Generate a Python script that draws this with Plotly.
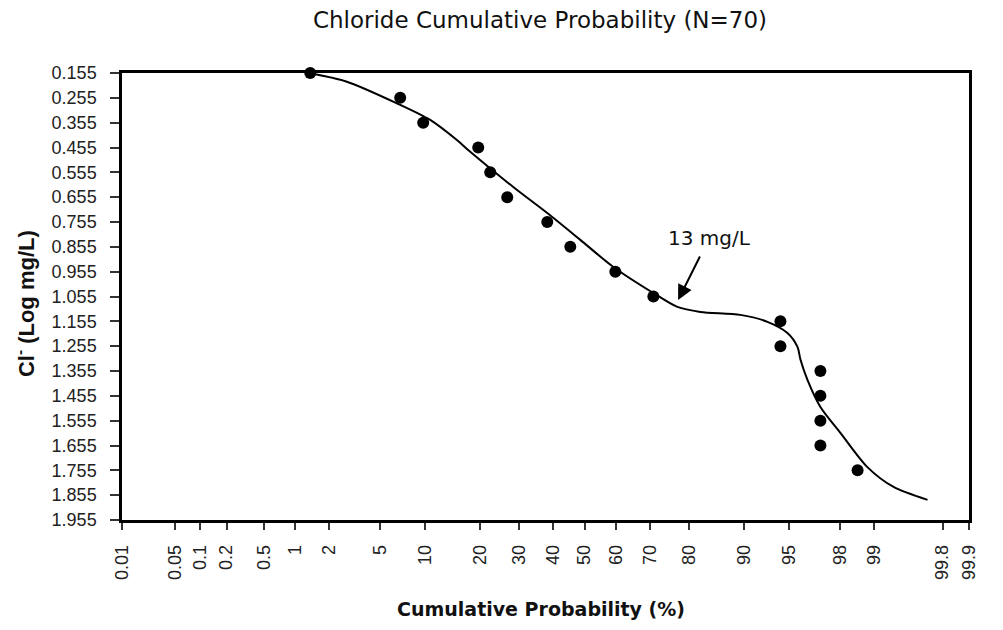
from statistics import NormalDist
import plotly.graph_objects as go

nd = NormalDist()

def z(p):
    return nd.inv_cdf(p / 100.0)

# X tick labels (cumulative probability, %)
x_tick_labels = ["0.01", "0.05", "0.1", "0.2", "0.5", "1", "2", "5", "10", "20", "30",
                 "40", "50", "60", "70", "80", "90", "95", "98", "99", "99.8", "99.9"]
# Y tick labels (Cl- log mg/L)
y_ticks = [0.155 + 0.1 * k for k in range(19)]

# Observed points
pts_prob = [1.37, 6.91, 9.72, 19.62, 22.40, 26.70, 38.20, 45.42, 59.75, 70.98,
            94.23, 94.23, 97.10, 97.10, 97.10, 97.10, 98.59]
pts_cl = [0.155, 0.255, 0.355, 0.455, 0.555, 0.655, 0.755, 0.855, 0.955, 1.055,
          1.155, 1.255, 1.355, 1.455, 1.555, 1.655, 1.755]

# Fitted curve
curve_prob = [1.37, 2.80, 6.56, 10.72, 15.23, 17.70, 28.31, 38.20, 48.62, 59.13,
              70.98, 77.21, 82.40, 89.48, 92.92, 94.85, 95.65, 95.87, 96.34, 97.10,
              98.02, 98.85, 99.35, 99.708]
curve_cl = [0.156, 0.190, 0.277, 0.344, 0.425, 0.469, 0.614, 0.719, 0.827, 0.936,
            1.041, 1.097, 1.117, 1.129, 1.157, 1.202, 1.258, 1.310, 1.391, 1.500,
            1.605, 1.742, 1.822, 1.874]

arrow_head = (77.4, 1.069)

fig = go.Figure()
fig.add_trace(go.Scatter(
    x=[z(p) for p in curve_prob], y=curve_cl, mode="lines",
    line=dict(color="black", width=2, shape="spline", smoothing=0.8),
    cliponaxis=False, showlegend=False, hoverinfo="skip"))
fig.add_trace(go.Scatter(
    x=[z(p) for p in pts_prob], y=pts_cl, mode="markers",
    marker=dict(color="black", size=12), cliponaxis=False, showlegend=False))

tick_font = dict(family="Liberation Sans, Arial", size=18, color="#222")

fig.update_xaxes(
    range=[z(0.01), z(99.9)], tickmode="array",
    tickvals=[z(float(t)) for t in x_tick_labels], ticktext=x_tick_labels,
    tickangle=-90, ticks="outside", ticklen=7, tickwidth=1.5, tickcolor="#333",
    tickfont=tick_font, showgrid=False, zeroline=False,
    showline=True, linecolor="black", linewidth=2.5, mirror=True,
    ticklabelstandoff=8)
fig.update_yaxes(
    range=[1.955, 0.155], tickmode="array",
    tickvals=y_ticks, ticktext=["%.3f" % v for v in y_ticks],
    ticks="outside", ticklen=9, tickwidth=1.5, tickcolor="#333",
    tickfont=tick_font, showgrid=False, zeroline=False,
    showline=True, linecolor="black", linewidth=2.5, mirror=True,
    ticklabelstandoff=10)

fig.add_annotation(x=z(arrow_head[0]), y=arrow_head[1], ax=31, ay=-62,
                   text="13 mg/L", showarrow=True, arrowhead=2, arrowsize=1.5,
                   arrowwidth=2, arrowcolor="black", borderpad=6,
                   font=dict(family="DejaVu Sans", size=20, color="#111"))

fig.add_annotation(xref="paper", yref="paper", x=0.4947, y=-0.199,
                   xanchor="center", yanchor="middle",
                   text="<b>Cumulative Probability (%)</b>", showarrow=False,
                   font=dict(family="DejaVu Sans", size=19, color="#111"))
fig.add_annotation(xref="paper", yref="paper", x=-0.1145, y=0.483,
                   xanchor="center", yanchor="middle",
                   text="<b>Cl<sup>-</sup> (Log mg/L)</b>", showarrow=False,
                   textangle=-90,
                   font=dict(family="Liberation Sans, Arial", size=22, color="#111"))

fig.update_layout(
    width=1003, height=630,
    margin=dict(l=122, r=34, t=73, b=110),
    paper_bgcolor="white", plot_bgcolor="white",
    title=dict(text="Chloride Cumulative Probability (N=70)",
               x=540 / 1003, y=1 - 20 / 630, xanchor="center", yanchor="middle",
               font=dict(family="DejaVu Sans", size=23, color="#111")),
)

fig.write_html("out.html")
